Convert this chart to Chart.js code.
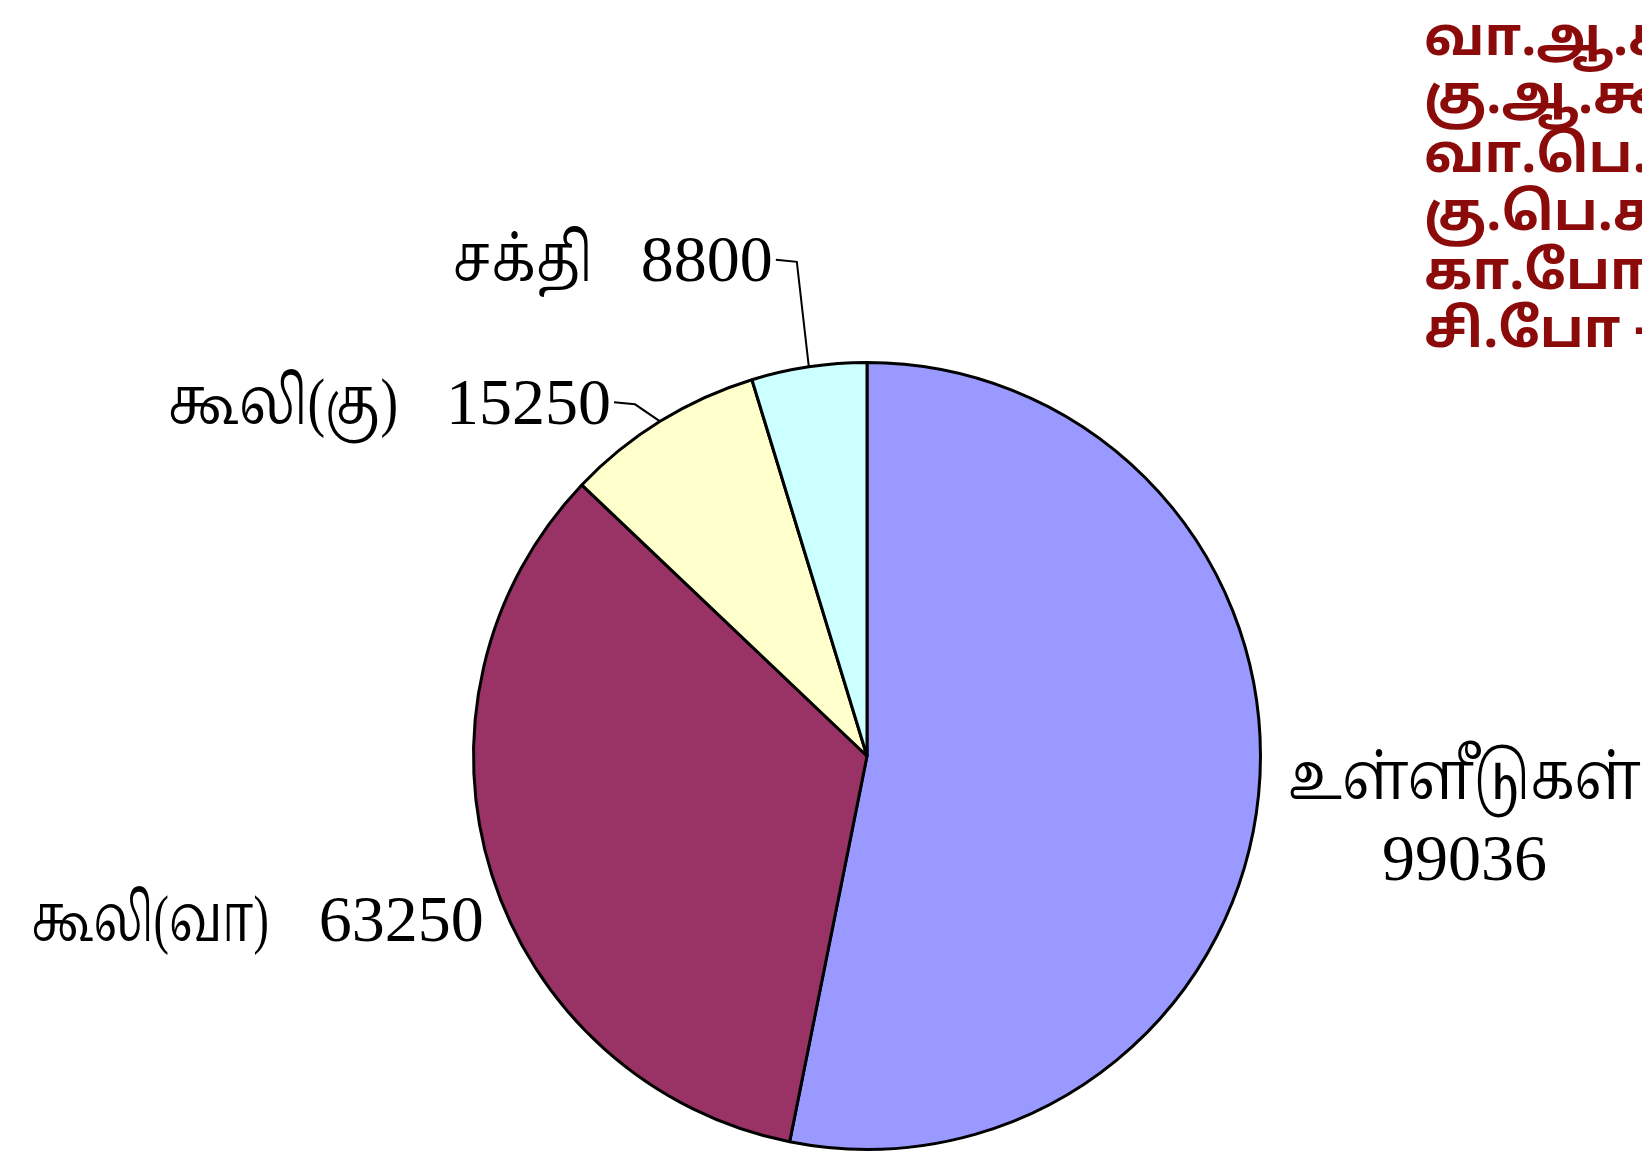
<!DOCTYPE html>
<html>
<head>
<meta charset="utf-8">
<script src="https://cdn.jsdelivr.net/npm/chart.js@4.4.1/dist/chart.umd.min.js"></script>
<style>
  html, body { margin: 0; padding: 0; background: #fff; }
  #wrap { position: relative; width: 1642px; height: 1156px; overflow: hidden; }
</style>
</head>
<body>
<div id="wrap"><canvas id="pie" width="1642" height="1156"></canvas></div>
<script>
const labels = ["உள்ளீடுகள்", "கூலி(வா)", "கூலி(கு)", "சக்தி"];
const values = [99036, 63250, 15250, 8800];
const colors = ["#9999FF", "#993366", "#FFFFCC", "#CCFFFF"];
const notes = ["வா.ஆ.கூலி", "கு.ஆ.கூலி", "வா.பெ.கூலி", "கு.பெ.கூலி", "கா.போ -", "சி.போ -"];

// where each label sits, relative to the middle of its slice edge
const labelPlace = [
  { dx: 206, dy: -13, twoLines: true, squash: 0.8 },
  { dx: -8, dy: 49, squash: 0.7, gap: 50 },
  { dx: -49, dy: -15, leader: true, squash: 0.8, gap: 48 },
  { dx: -36, dy: -103, leader: true, squash: 0.8, gap: 48 }
];

const labelFont = '66px "Liberation Serif", "Noto Serif Tamil", serif';

function squashText(ctx, text, x, y, align, sx) {
  ctx.save();
  ctx.translate(x, y);
  ctx.scale(sx, 1);
  ctx.textAlign = align;
  ctx.fillText(text, 0, 0);
  ctx.restore();
}

const sliceLabels = {
  id: "sliceLabels",
  afterDraw(chart) {
    const ctx = chart.ctx;
    const arcs = chart.getDatasetMeta(0).data;
    ctx.save();
    ctx.fillStyle = "#000";
    ctx.strokeStyle = "#000";
    ctx.lineWidth = 2;
    ctx.font = labelFont;
    ctx.textBaseline = "middle";
    arcs.forEach((arc, i) => {
      const mid = (arc.startAngle + arc.endAngle) / 2;
      const px = arc.x + Math.cos(mid) * arc.outerRadius;
      const py = arc.y + Math.sin(mid) * arc.outerRadius;
      const p = labelPlace[i];
      const tx = px + p.dx, ty = py + p.dy;
      if (p.twoLines) {
        squashText(ctx, labels[i], tx, ty, "center", p.squash);
        ctx.textAlign = "center";
        ctx.fillText(String(values[i]), tx, ty + 81);
      } else {
        const num = String(values[i]);
        ctx.textAlign = "right";
        ctx.fillText(num, tx, ty);
        const w = ctx.measureText(num).width;
        squashText(ctx, labels[i], tx - w - p.gap, ty, "right", p.squash);
      }
      if (p.leader) {
        ctx.beginPath();
        ctx.moveTo(tx + 3, ty - 4);
        ctx.lineTo(tx + 24, ty - 2);
        ctx.lineTo(px, py);
        ctx.stroke();
      }
    });

    // abbreviation notes, top right (cut by the page edge)
    ctx.font = 'bold 53px "Noto Sans Tamil", "Noto Sans", sans-serif';
    ctx.fillStyle = "#8B0A0A";
    ctx.textAlign = "left";
    notes.forEach((t, i) => ctx.fillText(t, 1424, 44 + i * 58.5));
    ctx.restore();
  }
};

new Chart(document.getElementById("pie"), {
  type: "pie",
  data: {
    labels: labels,
    datasets: [{
      data: values,
      backgroundColor: colors,
      borderColor: "#000",
      borderWidth: 3,
      hoverOffset: 0
    }]
  },
  options: {
    responsive: false,
    animation: false,
    layout: { padding: { left: 472, right: 380, top: 361, bottom: 5 } },
    plugins: {
      legend: { display: false },
      tooltip: { enabled: false }
    }
  },
  plugins: [sliceLabels]
});
</script>
</body>
</html>
